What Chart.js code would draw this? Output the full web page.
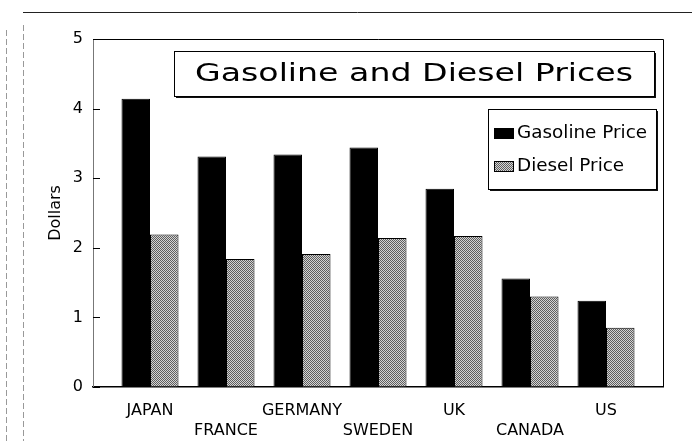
<!DOCTYPE html>
<html>
<head>
<meta charset="utf-8">
<script src="https://cdn.jsdelivr.net/npm/chart.js@4.4.1/dist/chart.umd.min.js"></script>
<style>
  html, body { margin: 0; padding: 0; background: #fff; }
  #wrap { width: 692px; height: 441px; }
</style>
</head>
<body>
<div id="wrap"><canvas id="priceChart" width="692" height="441"></canvas></div>
<script>
// Fuel prices per country, in dollars
const countries = ['JAPAN', 'FRANCE', 'GERMANY', 'SWEDEN', 'UK', 'CANADA', 'US'];
const gasolinePrice = [4.14, 3.31, 3.34, 3.44, 2.85, 1.56, 1.24];
const dieselPrice = [2.19, 1.84, 1.91, 2.14, 2.17, 1.30, 0.85];
const dollarTicks = [0, 1, 2, 3, 4, 5];

const chartTitle = 'Gasoline and Diesel Prices';
const FONT = "'DejaVu Sans', sans-serif";

// stippled grey fill for the diesel bars
function stipple() {
    const c = document.createElement('canvas');
    c.width = 2; c.height = 2;
    const g = c.getContext('2d');
    g.fillStyle = '#d4d4d4';
    g.fillRect(0, 0, 2, 2);
    g.fillStyle = '#5e5e5e';
    g.fillRect(0, 0, 1, 1);
    g.fillRect(1, 1, 1, 1);
    return g.createPattern(c, 'repeat');
}
const ctx0 = document.getElementById('priceChart').getContext('2d');
const dieselFill = stipple();

function boxWithShadow(ctx, x, y, w, h) {
    ctx.fillStyle = '#111';
    ctx.fillRect(x + 2, y + 2, w, h);
    ctx.fillStyle = '#fff';
    ctx.fillRect(x, y, w, h);
    ctx.strokeStyle = '#000';
    ctx.lineWidth = 1;
    ctx.strokeRect(x + 0.5, y + 0.5, w, h);
}

// wide geometric lettering: stretch the text to the given width
function wideText(ctx, text, x, y, width) {
    const k = width / ctx.measureText(text).width;
    ctx.save();
    ctx.translate(x, y);
    ctx.scale(k, 1);
    ctx.fillText(text, 0, 0);
    ctx.restore();
}

const frame = {
    id: 'frame',
    beforeDraw(chart) {
        const ctx = chart.ctx;
        ctx.save();
        ctx.fillStyle = '#fff';
        ctx.fillRect(0, 0, chart.width, chart.height);
        // page border
        ctx.strokeStyle = '#222';
        ctx.lineWidth = 1;
        ctx.beginPath();
        ctx.moveTo(23, 12.5);
        ctx.lineTo(chart.width, 12.5);
        ctx.stroke();
        ctx.strokeStyle = '#999';
        ctx.setLineDash([6, 3]);
        ctx.beginPath();
        ctx.moveTo(23.5, 25);
        ctx.lineTo(23.5, chart.height);
        ctx.moveTo(6.5, 30);
        ctx.lineTo(6.5, chart.height);
        ctx.stroke();
        ctx.restore();
    },
    afterDraw(chart) {
        const ctx = chart.ctx;
        const a = chart.chartArea;
        const y = chart.scales.y;
        ctx.save();
        // top and right edges of the plot box
        ctx.strokeStyle = '#000';
        ctx.lineWidth = 1;
        ctx.beginPath();
        ctx.moveTo(a.left, a.top + 0.5);
        ctx.lineTo(a.right + 0.5, a.top + 0.5);
        ctx.lineTo(a.right + 0.5, a.bottom);
        ctx.stroke();
        // inward tick marks on the value axis
        ctx.beginPath();
        y.ticks.forEach(t => {
            const py = Math.round(y.getPixelForValue(t.value)) + 0.5;
            ctx.moveTo(a.left, py);
            ctx.lineTo(a.left + 7, py);
        });
        ctx.stroke();

        // title box
        const tx = 174, ty = 51, tw = 480, th = 45;
        boxWithShadow(ctx, tx, ty, tw, th);
        ctx.fillStyle = '#000';
        ctx.font = '25px ' + FONT;
        ctx.textAlign = 'left';
        ctx.textBaseline = 'middle';
        wideText(ctx, chartTitle, tx + 21, ty + th / 2 + 1, 438);

        // legend box
        const lx = 488, ly = 109, lw = 168, lh = 80;
        boxWithShadow(ctx, lx, ly, lw, lh);
        ctx.font = '17px ' + FONT;
        chart.data.datasets.forEach((ds, i) => {
            const cy = ly + 24 + i * 33;
            ctx.fillStyle = ds.backgroundColor;
            ctx.fillRect(lx + 6, cy - 5, 20, 11);
            ctx.strokeStyle = '#000';
            ctx.strokeRect(lx + 6.5, cy - 4.5, 19, 10);
            ctx.fillStyle = '#000';
            const w = ctx.measureText(ds.label).width * 1.08;
            wideText(ctx, ds.label, lx + 29, cy + 1, w);
        });
        ctx.restore();
    }
};

new Chart(ctx0, {
    type: 'bar',
    data: {
        datasets: [
            {
                label: 'Gasoline Price',
                data: gasolinePrice.map((v, i) => ({ x: i, y: v })),
                backgroundColor: '#000',
                borderColor: '#000',
                borderWidth: 1
            },
            {
                label: 'Diesel Price',
                data: dieselPrice.map((v, i) => ({ x: i, y: v })),
                backgroundColor: dieselFill,
                borderColor: '#000',
                borderWidth: 1
            }
        ]
    },
    options: {
        responsive: false,
        animation: false,
        layout: { padding: { top: 39, right: 29, left: 0, bottom: 0 } },
        datasets: { bar: { categoryPercentage: 0.75, barPercentage: 1 } },
        scales: {
            x: {
                type: 'linear',
                offset: false,
                min: -0.75,
                max: countries.length - 0.25,
                afterFit: s => { s.height = 54; },
                afterBuildTicks: s => { s.ticks = countries.map((_, i) => ({ value: i })); },
                grid: { drawOnChartArea: false, drawTicks: false },
                border: { color: '#000', width: 1.5 },
                ticks: {
                    autoSkip: false,
                    maxRotation: 0,
                    padding: 13,
                    color: '#000',
                    font: { family: FONT, size: 16, lineHeight: 1.3 },
                    callback: v => (v % 2 === 0 ? [countries[v], ''] : ['', countries[v]])
                }
            },
            y: {
                min: 0,
                max: 5,
                afterFit: s => { s.width = 93; },
                afterBuildTicks: s => { s.ticks = dollarTicks.map(v => ({ value: v })); },
                grid: { drawOnChartArea: false, drawTicks: false },
                border: { color: '#777', width: 1, dash: [3, 2] },
                ticks: {
                    padding: 10,
                    color: '#000',
                    font: { family: FONT, size: 16 }
                },
                title: {
                    display: true,
                    text: 'Dollars',
                    color: '#000',
                    font: { family: FONT, size: 16 },
                    padding: { top: 46, bottom: 0 }
                }
            }
        },
        plugins: {
            legend: { display: false },
            title: { display: false },
            tooltip: { enabled: false }
        }
    },
    plugins: [frame]
});
</script>
</body>
</html>
